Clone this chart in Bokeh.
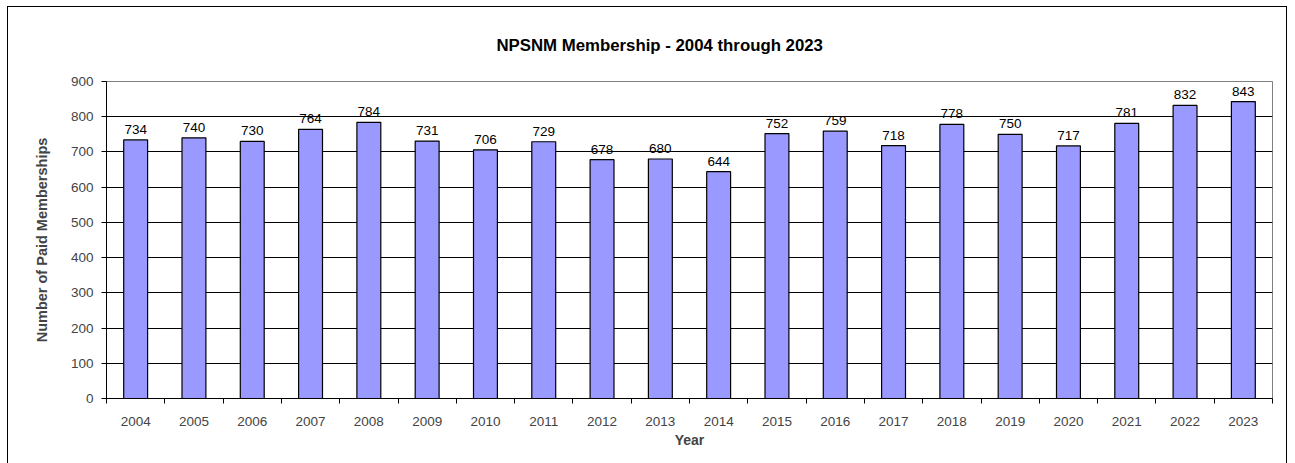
from bokeh.plotting import figure
from bokeh.models import FixedTicker, Range1d, ColumnDataSource, LabelSet
from bokeh.core.properties import value
from bokeh.embed import file_html
from bokeh.resources import INLINE
import numpy as np

years = ["2004", "2005", "2006", "2007", "2008", "2009", "2010", "2011", "2012", "2013",
         "2014", "2015", "2016", "2017", "2018", "2019", "2020", "2021", "2022", "2023"]
members = [734, 740, 730, 764, 784, 731, 706, 729, 678, 680,
           644, 752, 759, 718, 778, 750, 717, 781, 832, 843]
y_ticks = [0, 100, 200, 300, 400, 500, 600, 700, 800, 900]

n = len(years)
xpos = np.arange(n) + 0.5
src = ColumnDataSource(dict(x=xpos, y=members, lab=[str(v) for v in members]))

FONT = "Liberation Sans"

p = figure(width=1280, height=460, output_backend="svg", toolbar_location=None,
           x_range=Range1d(0, n), y_range=Range1d(0, 900),
           min_border_left=98, min_border_right=16, min_border_top=74, min_border_bottom=69,
           title="NPSNM Membership - 2004 through 2023")
p.margin = (6, 0, 0, 7)
p.styles = {"border": "1px solid #000000", "box-sizing": "border-box"}

p.title.align = "left"
p.title.offset = 390
p.title.text_font = FONT
p.title.text_font_size = "16.8px"
p.title.text_font_style = "bold"
p.title.text_color = "#000000"
p.title.standoff = 53

p.vbar(x="x", top="y", width=0.41, source=src, fill_color="#9999FF",
       line_color="#000000", line_width=1.2)

labels = LabelSet(x="x", y="y", text="lab", source=src, text_align="center",
                  text_baseline="bottom", y_offset=6, text_font=value(FONT),
                  text_font_size="13.5px", text_color="#000000")
p.add_layout(labels)

p.xaxis.ticker = FixedTicker(ticks=list(xpos), minor_ticks=list(range(n + 1)))
p.xaxis.major_label_overrides = {float(x): y for x, y in zip(xpos, years)}
p.xaxis.major_tick_line_color = None
p.xaxis.minor_tick_in = 0
p.xaxis.minor_tick_out = 5
p.xaxis.minor_tick_line_color = "#000000"
p.xaxis.axis_line_color = "#000000"
p.xaxis.major_label_text_font = FONT
p.xaxis.major_label_text_font_size = "13.5px"
p.xaxis.major_label_standoff = 12
p.xaxis.axis_label = "Year"
p.xaxis.axis_label_text_font = FONT
p.xaxis.axis_label_text_font_size = "14px"
p.xaxis.axis_label_text_font_style = "bold"
p.xaxis.axis_label_standoff = 3

p.yaxis.ticker = FixedTicker(ticks=y_ticks, minor_ticks=[])
p.yaxis.major_tick_in = 0
p.yaxis.major_tick_out = 5
p.yaxis.major_tick_line_color = "#000000"
p.yaxis.axis_line_color = "#000000"
p.yaxis.major_label_text_font = FONT
p.yaxis.major_label_text_font_size = "13.5px"
p.yaxis.major_label_standoff = 8
p.yaxis.axis_label = "Number of Paid Memberships"
p.yaxis.axis_label_text_font = FONT
p.yaxis.axis_label_text_font_size = "14.5px"
p.yaxis.axis_label_text_font_style = "bold"
p.yaxis.axis_label_standoff = 18

p.xgrid.grid_line_color = None
p.ygrid.ticker = FixedTicker(ticks=y_ticks)
p.ygrid.grid_line_color = "#000000"
p.ygrid.grid_line_width = 1
p.outline_line_color = "#808080"
p.outline_line_width = 1

open("out.html", "w").write(file_html(p, INLINE))
